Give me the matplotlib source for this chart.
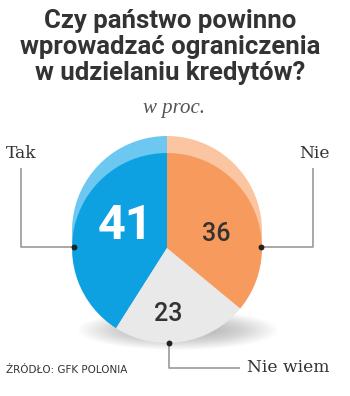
import matplotlib
matplotlib.use("Agg")
import matplotlib.pyplot as plt
from matplotlib.patches import Ellipse

# survey answers, in percent
labels = ["Tak", "Nie wiem", "Nie"]
values = [41, 23, 36]
colors = ["#0ea1e2", "#e9e9e9", "#f79a5d"]
back_colors = ["#6cc8f0", "#e9e9e9", "#fac5a0"]
value_colors = ["white", "#333333", "#333333"]

title = "Czy państwo powinno\nwprowadzać ograniczenia\nw udzielaniu kredytów?"
subtitle = "w proc."
source = "ŹRÓDŁO: GFK POLONIA"

W, H = 350, 396
fig = plt.figure(figsize=(W / 100, H / 100), dpi=100)
ax = fig.add_axes([0, 0, 1, 1])

cx, cy, r = 167, H - 248, 95
lift = 17

# soft shadow under the disc
for i in range(30):
    ax.add_patch(Ellipse((178, H - 330), 200 - i * 5, 40 - i * 1.2,
                         color="#707070", alpha=0.018, lw=0, zorder=0))

# lighter rim behind, then the front face
ax.pie(values, colors=back_colors, startangle=90, counterclock=True,
       center=(cx, cy + lift), radius=r, frame=True,
       wedgeprops=dict(linewidth=0, zorder=1))
wedges, _ = ax.pie(values, colors=colors, startangle=90, counterclock=True,
                   center=(cx, cy), radius=r, frame=True,
                   wedgeprops=dict(linewidth=0, zorder=2))
ax.set_xlim(0, W)
ax.set_ylim(0, H)
ax.set_aspect("equal")
ax.axis("off")

# numbers on the slices
ax.text(126, H - 226, str(values[0]), color=value_colors[0], fontsize=35,
        fontweight="bold", family="Roboto", ha="center", va="center", zorder=5)
ax.text(216, H - 234, str(values[2]), color=value_colors[2], fontsize=18,
        fontweight="medium", family="Roboto", ha="center", va="center", zorder=5)
ax.text(168, H - 314, str(values[1]), color=value_colors[1], fontsize=18,
        fontweight="medium", family="Roboto", ha="center", va="center", zorder=5)

# leader lines with end dots
line_kw = dict(color="#9a9a9a", lw=1.2, zorder=3, solid_capstyle="butt")
ax.plot([74, 21, 21], [H - 247, H - 247, H - 168], **line_kw)
ax.plot([261, 313, 313], [H - 247, H - 247, H - 168], **line_kw)
ax.plot([169, 169, 240], [H - 343, H - 368, H - 368], **line_kw)
ax.scatter([74, 261, 169], [H - 247, H - 247, H - 343], s=18, color="#222222",
           zorder=6, lw=0)

lab_kw = dict(fontsize=12.3, color="#333333", family="DejaVu Serif",
              va="center", zorder=5)
ax.text(21, H - 154, labels[0], ha="center", **lab_kw)
ax.text(314, H - 154, labels[2], ha="center", **lab_kw)
ax.text(247, H - 367, labels[1], ha="left", **lab_kw)

fig.text(170 / W, 1 - 47 / H, title, ha="center", va="center", fontsize=18.5,
         fontweight="bold", family="Roboto", color="#333333", linespacing=1.08)
fig.text(174 / W, 1 - 109 / H, subtitle, ha="center", va="center", fontsize=15,
         style="italic", family="Liberation Serif", color="#555555")
fig.text(6 / W, 1 - 370 / H, source, ha="left", va="center", fontsize=7.5,
         family=["Liberation Sans Narrow", "DejaVu Sans"], color="#333333")

fig.savefig("out.png", dpi=100, facecolor="white")
